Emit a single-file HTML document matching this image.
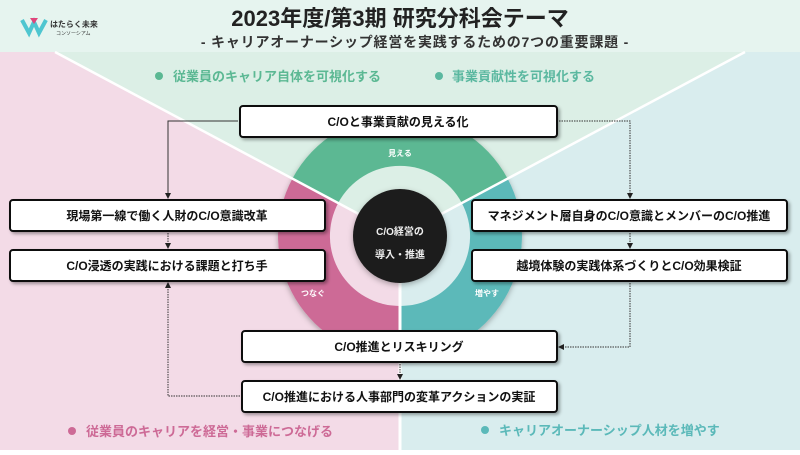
<!DOCTYPE html>
<html><head><meta charset="utf-8"><style>
body{margin:0;width:800px;height:450px;overflow:hidden;font-family:"Liberation Sans","Noto Sans CJK JP",sans-serif}
svg text{font-family:"Liberation Sans","Noto Sans CJK JP",sans-serif}
</style></head><body>
<svg width="800" height="450" viewBox="0 0 800 450" xmlns="http://www.w3.org/2000/svg">
<defs>
<filter id="sh" x="-10%" y="-20%" width="130%" height="160%"><feDropShadow dx="2" dy="2" stdDeviation="1.5" flood-color="#000" flood-opacity="0.35"/></filter>
<filter id="sh2" x="-20%" y="-20%" width="140%" height="140%"><feDropShadow dx="0" dy="2" stdDeviation="3" flood-color="#000" flood-opacity="0.3"/></filter>
<marker id="ar" markerWidth="6" markerHeight="6" refX="5" refY="3" orient="auto"><path d="M0,0 L6,3 L0,6 z" fill="#222"/></marker>
</defs>
<rect width="800" height="450" fill="#dcefe6"/>
<polygon points="0,52 55,52 400,236 400,450 0,450" fill="#f3dbe7"/>
<polygon points="800,52 745,52 400,236 400,450 800,450" fill="#d9edee"/>
<rect width="800" height="52" fill="#e6f4ef"/>
<g filter="url(#sh2)">
<path d="M400,236 L292.4,178.6 A122,122 0 0 1 507.6,178.6 Z" fill="#5bb893"/>
<path d="M400,236 L292.4,178.6 A122,122 0 0 0 400,358 Z" fill="#cd6a96"/>
<path d="M400,236 L507.6,178.6 A122,122 0 0 1 400,358 Z" fill="#5bb9b9"/>
</g>
<path d="M400,236 L338.2,203 A70,70 0 0 1 461.8,203 Z" fill="#dcefe6"/>
<path d="M400,236 L338.2,203 A70,70 0 0 0 400,306 Z" fill="#f3dbe7"/>
<path d="M400,236 L461.8,203 A70,70 0 0 1 400,306 Z" fill="#d9edee"/>
<line x1="55" y1="52" x2="400" y2="236" stroke="#fff" stroke-width="2.5"/>
<line x1="745" y1="52" x2="400" y2="236" stroke="#fff" stroke-width="2.5"/>
<line x1="400" y1="236" x2="400" y2="450" stroke="#fff" stroke-width="3"/>
<circle cx="400" cy="236" r="47" fill="#1c1b1b" filter="url(#sh2)"/>
<text x="400" y="243" font-size="10" fill="#eee" text-anchor="middle" font-weight="bold" dy="-8">C/O経営の</text>
<text x="400" y="258" font-size="10" fill="#eee" text-anchor="middle" font-weight="bold">導入・推進</text>
<text x="400" y="156" font-size="8" fill="#fff" text-anchor="middle" font-weight="bold">見える</text>
<text x="313" y="296" font-size="8" fill="#fff" text-anchor="middle" font-weight="bold">つなぐ</text>
<text x="487" y="296" font-size="8" fill="#fff" text-anchor="middle" font-weight="bold">増やす</text>
<text x="400" y="26" font-size="22" font-weight="bold" fill="#222" text-anchor="middle">2023年度/第3期 研究分科会テーマ</text>
<text x="415" y="47" font-size="14" font-weight="bold" fill="#333" text-anchor="middle" letter-spacing="0.8">- キャリアオーナーシップ経営を実践するための7つの重要課題 -</text>
<path d="M22,20 L29,33 L34,22 L39,33 L46,20" stroke="#4fc6d0" stroke-width="4" fill="none"/>
<path d="M30,18 L34,24 L38,18 Z" fill="#e0457b"/>
<text x="50" y="27" font-size="8" font-weight="bold" fill="#333">はたらく未来</text>
<text x="56" y="35" font-size="5" fill="#333">コンソーシアム</text>
<g font-size="13" font-weight="bold">
<circle cx="159" cy="76" r="4" fill="#5bb893"/><text x="173" y="81" fill="#5bb893">従業員のキャリア自体を可視化する</text>
<circle cx="439" cy="76" r="4" fill="#5bb8a0"/><text x="452" y="81" fill="#5bb8a0">事業貢献性を可視化する</text>
<circle cx="72" cy="431" r="4" fill="#cd6a96"/><text x="86" y="436" fill="#cd6a96">従業員のキャリアを経営・事業につなげる</text>
<circle cx="485" cy="430" r="4" fill="#5bb9b9"/><text x="499" y="435" fill="#5bb9b9">キャリアオーナーシップ人材を増やす</text>
</g>
<g stroke="#333" stroke-width="1" fill="none">
<polyline points="238,121 168,121 168,198" marker-end="url(#ar)"/>
<line x1="168" y1="233" x2="168" y2="248" marker-end="url(#ar)" stroke-dasharray="1.5,1"/>
<polyline points="240,396 168,396 168,283" marker-end="url(#ar)" stroke-dasharray="1.5,1"/>
<polyline points="559,121 630,121 630,198" stroke-dasharray="1.5,1" marker-end="url(#ar)"/>
<line x1="630" y1="233" x2="630" y2="248" stroke-dasharray="1.5,1" marker-end="url(#ar)"/>
<polyline points="630,283 630,347 559,347" stroke-dasharray="1.5,1" marker-end="url(#ar)"/>
<line x1="400" y1="364" x2="400" y2="379" stroke-dasharray="1.5,1" marker-end="url(#ar)"/>
</g>
<g filter="url(#sh)" fill="#fff" stroke="#111" stroke-width="2">
<rect x="240" y="106" width="317" height="31" rx="3"/>
<rect x="10" y="200" width="315" height="31" rx="3"/>
<rect x="10" y="250" width="315" height="31" rx="3"/>
<rect x="472" y="200" width="315" height="31" rx="3"/>
<rect x="472" y="250" width="315" height="31" rx="3"/>
<rect x="242" y="331" width="315" height="31" rx="3"/>
<rect x="242" y="381" width="315" height="31" rx="3"/>
</g>
<g font-size="12" font-weight="bold" fill="#111" text-anchor="middle">
<text x="398" y="126">C/Oと事業貢献の見える化</text>
<text x="167" y="220">現場第一線で働く人財のC/O意識改革</text>
<text x="167" y="270">C/O浸透の実践における課題と打ち手</text>
<text x="629" y="220">マネジメント層自身のC/O意識とメンバーのC/O推進</text>
<text x="629" y="270">越境体験の実践体系づくりとC/O効果検証</text>
<text x="399" y="351">C/O推進とリスキリング</text>
<text x="399" y="401">C/O推進における人事部門の変革アクションの実証</text>
</g>
</svg>
</body></html>
